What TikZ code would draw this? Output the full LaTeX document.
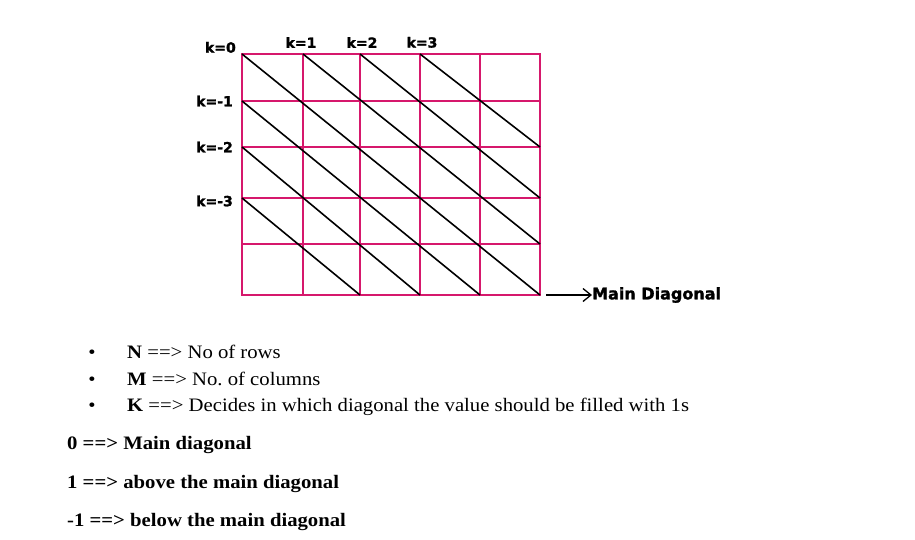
\documentclass[tikz,border=0pt]{standalone}
\usepackage{fontspec}
\setmainfont[FakeStretch=1.09]{Liberation Serif}
\newfontfamily\labelfont[BoldFeatures={FakeBold=1.6}]{DejaVu Sans}
\usetikzlibrary{arrows.meta,positioning}
\definecolor{gridpink}{RGB}{214,24,108}
\frenchspacing

\begin{document}
\begin{tikzpicture}[
    x=1pt, y=-1pt,
    gridline/.style={draw=gridpink, line width=2.3pt, line cap=rect},
    diag/.style={draw=black, line width=1.6pt},
    klabel/.style={font=\labelfont\bfseries\fontsize{14}{16}\selectfont, inner sep=1pt},
    txt/.style={anchor=base west, inner sep=0pt, font=\fontsize{19}{22}\selectfont},
    bold/.style={txt, font=\bfseries\fontsize{19}{22}\selectfont},
    dot/.style={anchor=base, inner sep=0pt, font=\fontsize{19}{22}\selectfont},
    >={Straight Barb[length=8pt,width=13pt]}
  ]
  \useasboundingbox (0,0) rectangle (915,539);

  % Grid points
  \foreach \x [count=\c from 0] in {242,303,360,420,480,540} {
    \foreach \y [count=\r from 0] in {54,101,147,198,244,295} {
      \coordinate (g\c-\r) at (\x,\y);
    }
  }

  % Grid
  \foreach \i in {0,...,5} {
    \draw[gridline] (g\i-0) -- (g\i-5);
    \draw[gridline] (g0-\i) -- (g5-\i);
  }

  % Diagonals
  \foreach \k [evaluate=\k as \e using int(5-\k)] in {0,...,3} {
    \draw[diag] (g\k-0) -- (g5-\e);
  }
  \foreach \k [evaluate=\k as \e using int(5-\k)] in {1,2,3} {
    \draw[diag] (g0-\k) -- (g\e-5);
  }

  % k labels
  \node[klabel, above left=0pt and 5pt of g0-0] (k0) {k=0};
  \node[klabel, above=5pt of g1-0, xshift=-2pt] (k1) {k=1};
  \node[klabel, above=5pt of g2-0, xshift=2pt] (k2) {k=2};
  \node[klabel, above=5pt of g3-0, xshift=2pt] (k3) {k=3};
  \node[klabel, left=8pt of g0-1] (km1) {k=-1};
  \node[klabel, left=8pt of g0-2] (km2) {k=-2};
  \node[klabel, left=8pt of g0-3, yshift=-3pt] (km3) {k=-3};

  % Main diagonal
  \node[font=\labelfont\bfseries\fontsize{16}{18}\selectfont, anchor=west, inner sep=0pt]
    (md) at ([xshift=52pt]g5-5) {Main Diagonal};
  \draw[->, line width=1.3pt] ([xshift=6pt]g5-5) -- (md);

  % Notes
  \node[dot] (b1) at (92,358) {\textbullet};
  \node[dot] (b2) at (92,385) {\textbullet};
  \node[dot] (b3) at (92,411) {\textbullet};
  \node[txt] (n) at (127,358) {\textbf{N} ==> No of rows};
  \node[txt] (m) at (127,385) {\textbf{M} ==> No. of columns};
  \node[txt] (kk) at (127,411) {\textbf{K} ==> Decides in which diagonal the value should be filled with 1s};
  \node[bold] (z) at (67,449) {0 ==> Main diagonal};
  \node[bold] (ab) at (67,488) {1 ==> above the main diagonal};
  \node[bold] (be) at (67,526) {-1 ==> below the main diagonal};
\end{tikzpicture}
\end{document}
